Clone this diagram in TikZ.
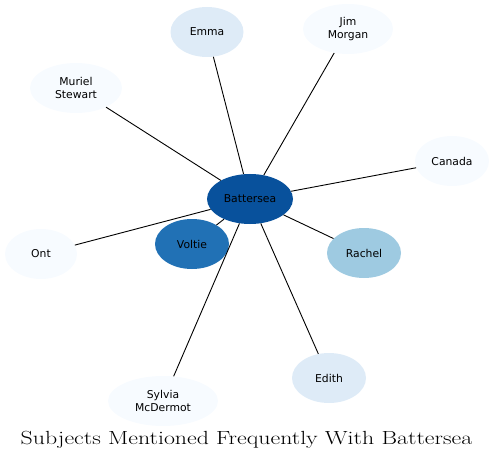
\documentclass[tikz,border=0pt]{standalone}
\usepackage{fontspec}
\newfontfamily\etiqfont{DejaVu Sans}
\usepackage{xcolor}
\usepackage{graphicx}
\definecolor{bleufonce}{HTML}{08519C}
\definecolor{bleumoyen}{HTML}{2171B5}
\definecolor{bleuclair}{HTML}{9ECAE1}
\definecolor{bleupale}{HTML}{DEEBF7}
\definecolor{bleublanc}{HTML}{F7FBFF}
\usetikzlibrary{shapes.geometric}

\begin{document}
\begin{tikzpicture}[x=1pt, y=-1pt,
      sujet/.style={ellipse, draw=none, inner sep=0pt, minimum height=50pt,
                    align=center, font=\etiqfont\fontsize{10.8}{12.5}\selectfont},
      lien/.style={line width=0.9pt, color=black}]
    \useasboundingbox (0,0) rectangle (494,462);
    \node[sujet, fill=bleufonce, minimum width=86pt]  (bat)    at (250,199) {Battersea};
    \node[sujet, fill=bleumoyen, minimum width=74pt]  (voltie) at (192,244) {Voltie};
    \node[sujet, fill=bleupale, minimum width=73pt]   (emma)   at (207,32)  {Emma};
    \node[sujet, fill=bleublanc, minimum width=90pt]  (jim)    at (348,29)  {Jim\\Morgan};
    \node[sujet, fill=bleublanc, minimum width=92pt]  (muriel) at (76,88)   {Muriel\\Stewart};
    \node[sujet, fill=bleublanc, minimum width=74pt]  (canada) at (452,161) {Canada};
    \node[sujet, fill=bleublanc, minimum width=72pt]  (ont)    at (41,254)  {Ont};
    \node[sujet, fill=bleuclair, minimum width=74pt]  (rachel) at (364,253) {Rachel};
    \node[sujet, fill=bleupale, minimum width=74pt]   (edith)  at (329,378) {Edith};
    \node[sujet, fill=bleublanc, minimum width=110pt] (sylvia) at (163,401) {Sylvia\\McDermot};
    \foreach \autre in {voltie,emma,jim,muriel,canada,ont,rachel,edith,sylvia}
      \draw[lien] (bat) -- (\autre);
    % titre, un peu elargi
    \node[font=\fontsize{19}{22}\selectfont, anchor=base] (titre) at (246.5,444)
      {\scalebox{1.255}[1]{Subjects Mentioned Frequently With Battersea}};
  \end{tikzpicture}
\end{document}
